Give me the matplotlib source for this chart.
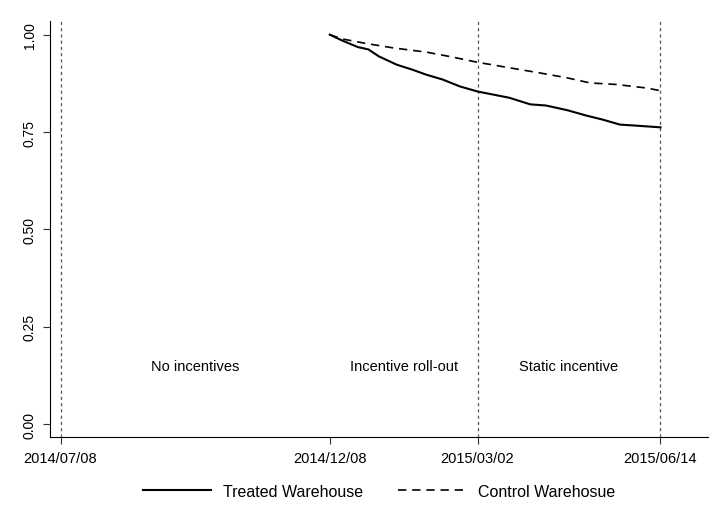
import matplotlib
matplotlib.use("Agg")
import matplotlib.pyplot as plt
import matplotlib.dates as mdates
import numpy as np
import pandas as pd

plt.rcParams["font.family"] = ["Liberation Sans", "DejaVu Sans"]

# survival curves, days after 2014/12/08
start = pd.Timestamp("2014-12-08")
treated_days = [0, 7, 16, 22, 28, 38, 47, 55, 64, 74, 84, 93, 102, 114, 123, 135, 146, 155, 165, 172, 188]
treated_surv = [1.0, 0.985, 0.968, 0.962, 0.944, 0.923, 0.910, 0.897, 0.885, 0.867, 0.854,
                0.846, 0.838, 0.821, 0.818, 0.806, 0.792, 0.782, 0.769, 0.767, 0.762]
control_days = [0, 7, 21, 36, 55, 68, 84, 102, 119, 135, 148, 163, 180, 188]
control_surv = [1.0, 0.989, 0.977, 0.966, 0.955, 0.944, 0.929, 0.915, 0.902, 0.889,
                0.876, 0.872, 0.863, 0.856]

# period boundaries and labels
cutoffs = ["2014-07-08", "2014-12-08", "2015-03-02", "2015-06-14"]
vlines = ["2014-07-08", "2015-03-02", "2015-06-14"]
periods = ["No incentives", "Incentive roll-out", "Static incentive"]
ylabels = ["0.00", "0.25", "0.50", "0.75", "1.00"]

cut = pd.to_datetime(cutoffs)
t_dates = start + pd.to_timedelta(treated_days, unit="D")
c_dates = start + pd.to_timedelta(control_days, unit="D")

fig = plt.figure(figsize=(7.09, 5.06), dpi=100)
ax = fig.add_axes([50 / 709, 68 / 506, 658 / 709, 416 / 506])

for d in pd.to_datetime(vlines):
    ax.axvline(d, color="#555555", lw=0.9, ls=(0, (2.5, 2.5)), zorder=1)

ax.plot(t_dates, treated_surv, color="black", lw=1.5, label="Treated Warehouse")
ax.plot(c_dates, control_surv, color="black", lw=1.2, ls=(0, (5, 3.5)),
        label="Control Warehosue")

for i, name in enumerate(periods):
    mid = cut[i] + (cut[i + 1] - cut[i]) / 2
    ax.text(mid, 0.15, name, ha="center", va="center", fontsize=10.5)

ax.set_xlim(pd.Timestamp("2014-07-02"), pd.Timestamp("2015-07-11"))
ax.set_ylim(-0.033, 1.035)
ax.set_xticks(cut)
ax.xaxis.set_major_formatter(mdates.DateFormatter("%Y/%m/%d"))
ax.set_yticks([0, 0.25, 0.5, 0.75, 1.0])
ax.set_yticklabels(ylabels, rotation=90, va="center", fontsize=10,
                   family=["Liberation Sans Narrow", "Liberation Sans"])
ax.tick_params(length=5, width=0.8, color="#333333")
ax.tick_params(axis="x", labelsize=10.5, pad=5)
ax.tick_params(axis="y", pad=4.5)
ax.spines["top"].set_visible(False)
ax.spines["right"].set_visible(False)

ax.legend(loc="center", bbox_to_anchor=(0.5, -0.13), ncol=2, frameon=False,
          fontsize=11.5, handlelength=4.25, handletextpad=0.75, columnspacing=2.2)

fig.savefig("out.png", dpi=100)
